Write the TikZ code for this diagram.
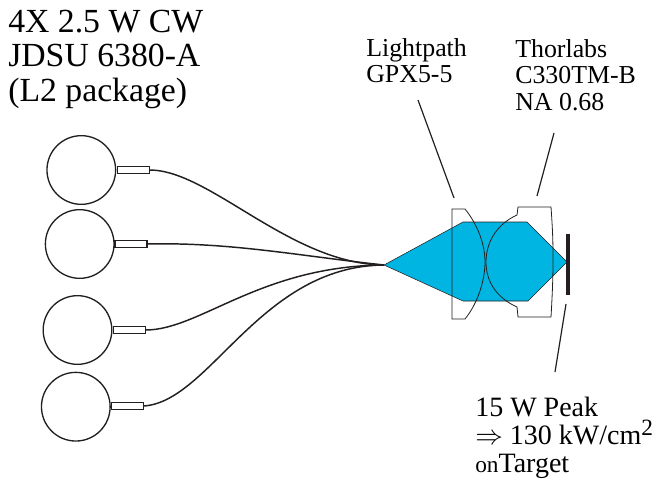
\documentclass[tikz,border=0pt]{standalone}
\usepackage{fontspec}
\setmainfont{Liberation Serif}
\definecolor{beamblue}{RGB}{0,181,226}
\definecolor{inkblack}{RGB}{35,31,32}
\begin{document}
\begin{tikzpicture}[x=0.75pt,y=-0.75pt,
  laser/.style={circle,draw=inkblack,line width=1pt,minimum size=51.5pt,inner sep=0pt,outer sep=0pt},
  ferrule/.style={rectangle,draw=inkblack,line width=0.9pt,minimum width=24pt,minimum height=5pt,inner sep=0pt,outer sep=0pt},
  fiber/.style={draw=inkblack,line width=1.1pt},
  lens/.style={draw=inkblack,line width=0.6pt},
  leader/.style={draw=inkblack,line width=0.9pt},
  biglabel/.style={anchor=north west,align=left,inner sep=0pt,font=\fontsize{25.3}{26}\selectfont},
  smalllabel/.style={anchor=north west,align=left,inner sep=0pt,font=\fontsize{19.4}{20}\selectfont}]
\useasboundingbox (0,0) rectangle (659,481);
\node[biglabel] (title) at (8,9.5) {4X 2.5 W CW\\JDSU 6380-A\\(L2 package)};
\node[smalllabel] (gpx) at (366,38) {Lightpath\\GPX5-5};
\node[smalllabel] (thor) at (515,39) {Thorlabs\\C330TM-B\\NA 0.68};
\node[anchor=north west,align=left,inner sep=0pt,font=\fontsize{21}{21}\selectfont] (peak) at (475,397)
{15 W Peak\\\(\Rightarrow\) 130 kW/cm\smash{\raisebox{7pt}{\fontsize{17.5}{17.5}\selectfont 2}}\\{\fontsize{17.5}{21}\selectfont on}Target};
\coordinate (tip) at (384,265);
\fill[beamblue,draw=inkblack,line width=0.4pt] (tip)--(463,222)--(527,222)--(567,262)--(528,301)--(463,301)--cycle;
\node[laser] (laser1) at (81.3,170) {};
\node[laser] (laser2) at (79.7,244) {};
\node[laser] (laser3) at (77.5,330) {};
\node[laser] (laser4) at (75.8,406.7) {};
\node[ferrule] (ferrule1) at (133.5,170) {};
\node[ferrule] (ferrule2) at (131,244) {};
\node[ferrule] (ferrule3) at (129.5,330) {};
\node[ferrule] (ferrule4) at (127.5,406) {};
\draw[fiber] (ferrule1.east) .. controls (210,170) and (290,264) .. (tip);
\draw[fiber] (ferrule2.east) .. controls (230,242) and (300,256) .. (tip);
\draw[fiber] (ferrule3.east) .. controls (200,330) and (260,266) .. (tip);
\draw[fiber] (ferrule4.east) .. controls (210,402) and (260,266) .. (tip);
\draw[lens] (465,209)--(452,209)--(452,319)--(465,319)
.. controls (478,303) and (485,280) .. (485,262)
.. controls (485,245) and (478,225) .. (465,209);
\draw[lens] (518,207)--(551,207) .. controls (553,235) and (553,245) .. (553,262)
.. controls (553,280) and (552,300) .. (551,317)--(518,317)--(517,307)
.. controls (497,298) and (486,282) .. (486,262)
.. controls (486,242) and (497,224) .. (517,215)--cycle;
\coordinate (barTop) at (568,234);
\coordinate (barEnd) at (568,295);
\draw[inkblack,line width=3pt] (barTop)--(barEnd);
\coordinate (gpxA) at (418,100);
\coordinate (gpxB) at (454,198);
\coordinate (thorA) at (554,133);
\coordinate (thorB) at (537,196);
\coordinate (peakA) at (566,304);
\coordinate (peakB) at (555,372);
\draw[leader] (gpxA)--(gpxB);
\draw[leader] (thorA)--(thorB);
\draw[leader] (peakA)--(peakB);
\end{tikzpicture}
\end{document}
